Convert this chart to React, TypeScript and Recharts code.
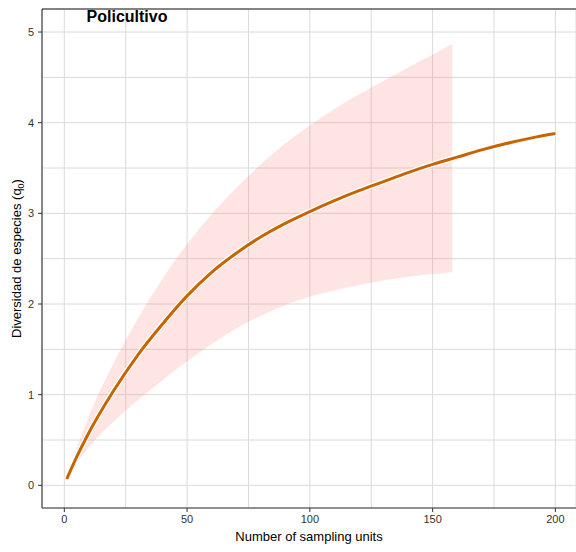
import React from 'react';
import {
  ComposedChart,
  Line,
  Area,
  XAxis,
  YAxis,
  CartesianGrid,
  ReferenceLine,
} from 'recharts';

// Number of sampling units (x positions of the curve)
const samplingUnits = [1, 5, 10, 20, 30, 40, 50, 60, 70, 80, 90, 100, 110, 120, 130, 140, 150, 158, 160, 170, 180, 190, 200];
// Estimated species diversity (q0)
const estimate = [0.07, 0.31, 0.58, 1.04, 1.44, 1.78, 2.09, 2.35, 2.56, 2.74, 2.89, 3.02, 3.14, 3.25, 3.35, 3.45, 3.54, null, 3.62, 3.70, 3.77, 3.83, 3.88];
// Confidence band (only up to 158 sampling units)
const lowerCI = [0.07, 0.24, 0.42, 0.70, 0.94, 1.16, 1.37, 1.56, 1.73, 1.87, 1.99, 2.08, 2.15, 2.21, 2.26, 2.30, 2.33, 2.35, null, null, null, null, null];
const upperCI = [0.07, 0.40, 0.76, 1.34, 1.84, 2.28, 2.66, 2.99, 3.28, 3.54, 3.77, 3.97, 4.15, 4.31, 4.46, 4.61, 4.75, 4.87, null, null, null, null, null];

const xTicks = [0, 25, 50, 75, 100, 125, 150, 175, 200];
const xLabelTicks = [0, 50, 100, 150, 200];
const yTicks = [0, 0.5, 1, 1.5, 2, 2.5, 3, 3.5, 4, 4.5, 5];
const yLabelTicks = [0, 1, 2, 3, 4, 5];

const X_DOMAIN: [number, number] = [-9.09, 208.4];
const Y_DOMAIN: [number, number] = [-0.25, 5.254];

const FONT = '"Liberation Sans", Arial, Helvetica, sans-serif';

const data = samplingUnits.map((x, i) => ({
  x,
  est: estimate[i],
  ci: lowerCI[i] == null || upperCI[i] == null ? null : [lowerCI[i], upperCI[i]],
}));

const XTick = (props: any) => {
  const { x, y, payload } = props;
  if (!xLabelTicks.includes(payload.value)) return null;
  return (
    <g>
      <line x1={x} x2={x} y1={y - 7} y2={y - 3} stroke="#333" strokeWidth={1} />
      <text x={x} y={y} dy="0.75em" textAnchor="middle" fontSize={11} fill="#333" fontFamily={FONT}>
        {payload.value}
      </text>
    </g>
  );
};

const YTick = (props: any) => {
  const { x, y, payload } = props;
  if (!yLabelTicks.includes(payload.value)) return null;
  return (
    <g>
      <line x1={x + 4} x2={x + 8} y1={y} y2={y} stroke="#333" strokeWidth={1} />
      <text x={x} y={y} dy="0.36em" textAnchor="end" fontSize={11} fill="#333" fontFamily={FONT}>
        {payload.value}
      </text>
    </g>
  );
};

const XTitle = (props: any) => {
  const vb = props.viewBox || {};
  const cx = (vb.x ?? 42) + (vb.width ?? 534) / 2;
  return (
    <text x={cx} y={541} textAnchor="middle" fontSize={13} fill="#000" fontFamily={FONT}>
      Number of sampling units
    </text>
  );
};

const YTitle = (props: any) => {
  const vb = props.viewBox || {};
  const cy = (vb.y ?? 9) + (vb.height ?? 499) / 2;
  return (
    <text x={21} y={cy} transform={`rotate(-90, 21, ${cy})`} textAnchor="middle" fontSize={13} fill="#000" fontFamily={FONT}>
      Diversidad de especies (q
      <tspan fontSize={9} dy={3}>0</tspan>
      <tspan dy={-3}>)</tspan>
    </text>
  );
};

export default function App() {
  return (
    <div style={{ position: 'absolute', left: 0, top: 0, width: 576, height: 552, background: '#fff', overflow: 'hidden' }}>
      <ComposedChart width={576} height={552} data={data} margin={{ top: 9, right: 0, bottom: 0, left: 0 }}>
        <CartesianGrid stroke="#dadada" strokeWidth={1} />
        <XAxis
          dataKey="x"
          type="number"
          domain={X_DOMAIN}
          allowDataOverflow
          ticks={xTicks}
          interval={0}
          height={44}
          tickSize={4}
          tickMargin={3}
          tickLine={false}
          tick={<XTick />}
          axisLine={{ stroke: '#333', strokeWidth: 1.1 }}
          label={<XTitle />}
        />
        <YAxis
          type="number"
          domain={Y_DOMAIN}
          allowDataOverflow
          ticks={yTicks}
          interval={0}
          width={42}
          tickSize={4}
          tickMargin={4}
          tickLine={false}
          tick={<YTick />}
          axisLine={{ stroke: '#333', strokeWidth: 1.1 }}
          label={<YTitle />}
        />
        <Area
          dataKey="ci"
          type="monotone"
          stroke="none"
          fill="#F8766D"
          fillOpacity={0.2}
          isAnimationActive={false}
          activeDot={false}
          dot={false}
        />
        <Line dataKey="est" type="monotone" connectNulls stroke="#ffffff" strokeWidth={5.5} dot={false} activeDot={false} isAnimationActive={false} />
        <Line dataKey="est" type="monotone" connectNulls stroke="#C86400" strokeWidth={3} dot={false} activeDot={false} isAnimationActive={false} />
        <ReferenceLine y={Y_DOMAIN[1]} stroke="#1a1a1a" strokeWidth={1.2} ifOverflow="visible" />
      </ComposedChart>
      <div
        style={{
          position: 'absolute',
          left: 127,
          top: 17,
          transform: 'translate(-50%, -50%)',
          fontFamily: FONT,
          fontWeight: 'bold',
          fontSize: 16,
          color: '#000',
          whiteSpace: 'nowrap',
          lineHeight: 1,
        }}
      >
        Policultivo
      </div>
    </div>
  );
}
